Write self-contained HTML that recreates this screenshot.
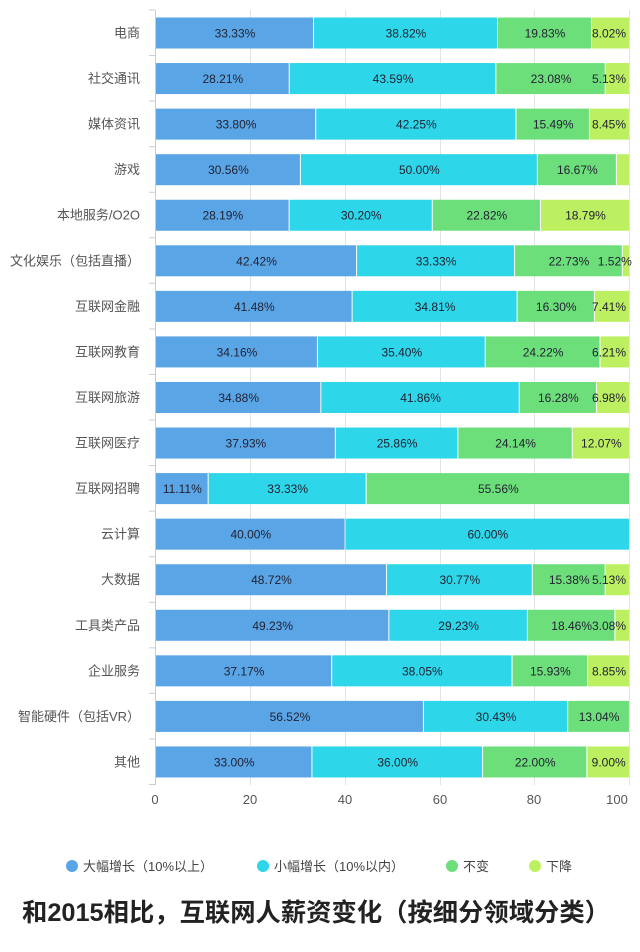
<!DOCTYPE html>
<html><head><meta charset="utf-8"><style>
body{margin:0;background:#fff;width:640px;height:947px;overflow:hidden;font-family:"Liberation Sans","Noto Sans CJK SC",sans-serif}
</style></head><body>
<svg width="640" height="947" xmlns="http://www.w3.org/2000/svg" font-family="Liberation Sans, Noto Sans CJK SC, sans-serif">
<g id="grid" stroke="#e3e3e3" stroke-width="1"></g>
<g id="bars"></g>
<line x1="155.5" y1="10" x2="155.5" y2="785" stroke="#ccc"/>
<g font-size="13" fill="#555" text-anchor="middle">
<text x="155" y="804">0</text><text x="250" y="804">20</text><text x="345" y="804">40</text><text x="440" y="804">60</text><text x="534" y="804">80</text><text x="617" y="804">100</text>
</g>
<g font-size="13" fill="#444">
<circle cx="72" cy="866" r="6" fill="#5aa5e6"/><text x="83" y="871">大幅增长（10%以上）</text>
<circle cx="263" cy="866" r="6" fill="#2dd6e8"/><text x="274" y="871">小幅增长（10%以内）</text>
<circle cx="452" cy="866" r="6" fill="#6ddf7a"/><text x="463" y="871">不变</text>
<circle cx="535" cy="866" r="6" fill="#bdf060"/><text x="546" y="871">下降</text>
</g>
<text x="22" y="921" font-size="25" font-weight="bold" fill="#222" textLength="588" lengthAdjust="spacingAndGlyphs">和2015相比，互联网人薪资变化（按细分领域分类）</text>
</svg>
<script>
var d=[["电商",[33.33,38.82,19.83,8.02]],["社交通讯",[28.21,43.59,23.08,5.13]],["媒体资讯",[33.80,42.25,15.49,8.45]],["游戏",[30.56,50.00,16.67,2.77],[1,1,1,0]],["本地服务/O2O",[28.19,30.20,22.82,18.79]],["文化娱乐（包括直播）",[42.42,33.33,22.73,1.52]],["互联网金融",[41.48,34.81,16.30,7.41]],["互联网教育",[34.16,35.40,24.22,6.21]],["互联网旅游",[34.88,41.86,16.28,6.98]],["互联网医疗",[37.93,25.86,24.14,12.07]],["互联网招聘",[11.11,33.33,55.56]],["云计算",[40,60]],["大数据",[48.72,30.77,15.38,5.13]],["工具类产品",[49.23,29.23,18.46,3.08]],["企业服务",[37.17,38.05,15.93,8.85]],["智能硬件（包括VR）",[56.52,30.43,13.04]],["其他",[33,36,22,9]]];
var col=["#5aa5e6","#2dd6e8","#6ddf7a","#bdf060"],NS="http://www.w3.org/2000/svg";
var g=document.getElementById("bars"),gr=document.getElementById("grid");
function el(t,a,p,txt){var e=document.createElementNS(NS,t);for(var k in a)e.setAttribute(k,a[k]);if(txt)e.textContent=txt;p.appendChild(e);return e;}
[250,345,440,534,629].forEach(function(x){el("line",{x1:x+.5,y1:10,x2:x+.5,y2:785},gr);});
for(var i=0;i<=17;i++){var y=10+i*45.56;el("line",{x1:149,y1:y,x2:155,y2:y,stroke:"#ccc"},g);}
var W=4.74;
d.forEach(function(r,i){var cy=33+i*45.56,x=156;
el("text",{x:140,y:cy+4.5,"font-size":13,fill:"#555","text-anchor":"end"},g,r[0]);
r[1].forEach(function(v,j){var w=v*W;el("rect",{x:x,y:cy-15.5,width:w-1,height:31,fill:col[j]},g);
if(!(r[2]&&!r[2][j])){var tx=x+w/2;if(v<3)tx=x-8;if(v<9&&v>=3)tx=Math.min(x+w/2,609);
el("text",{x:tx,y:cy+4.5,"font-size":12,fill:"#223","text-anchor":"middle"},g,v.toFixed(2)+"%");}
x+=w;});});
</script>
</body></html>
